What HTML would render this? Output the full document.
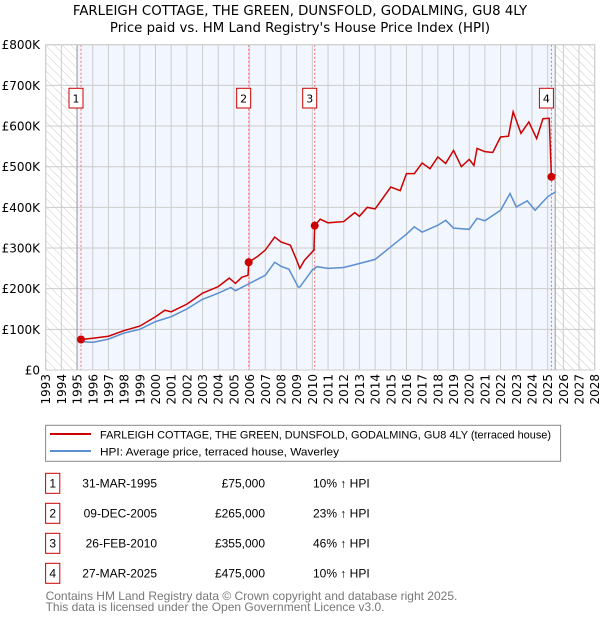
<!DOCTYPE html>
<html><head><meta charset="utf-8"><style>
body{margin:0;background:#fff;font-family:"Liberation Sans","DejaVu Sans",sans-serif;}
</style></head><body>
<svg id="c" width="600" height="620" xmlns="http://www.w3.org/2000/svg" style="font-family:'DejaVu Sans','Liberation Sans',sans-serif">
<defs><pattern id="hatch" width="6" height="6" patternUnits="userSpaceOnUse" patternTransform="rotate(-45)"><line x1="0" y1="0" x2="0" y2="6" stroke="#ccc" stroke-width="1"/></pattern></defs>
<text x="300" y="15" text-anchor="middle" font-size="13.3" fill="#000">FARLEIGH COTTAGE, THE GREEN, DUNSFOLD, GODALMING, GU8 4LY</text>
<text x="300" y="32" text-anchor="middle" font-size="13.3" fill="#000">Price paid vs. HM Land Registry's House Price Index (HPI)</text>
<g id="plot"></g>
<g style="font-family:'Liberation Sans','DejaVu Sans',sans-serif">
<rect x="45.6" y="425.3" width="515" height="36" fill="#fff" stroke="#888"/>
<line x1="50" y1="434" x2="91" y2="434" stroke="#cc0000" stroke-width="2"/>
<text x="100" y="438.5" font-size="11.2" textLength="451" lengthAdjust="spacingAndGlyphs">FARLEIGH COTTAGE, THE GREEN, DUNSFOLD, GODALMING, GU8 4LY (terraced house)</text>
<line x1="50" y1="451" x2="91" y2="451" stroke="#5b8fd0" stroke-width="2"/>
<text x="100" y="455.5" font-size="11.2" textLength="239" lengthAdjust="spacingAndGlyphs">HPI: Average price, terraced house, Waverley</text>
<g id="table" font-size="12"></g>
<text x="45.6" y="600" font-size="12" fill="#777">Contains HM Land Registry data © Crown copyright and database right 2025.</text>
<text x="45.6" y="611" font-size="12" fill="#777">This data is licensed under the Open Government Licence v3.0.</text>
</g>
</svg>
<script>
const hpiYears=[1995.25,1996,1997,1998,1999,2000,2001,2002,2003,2004,2004.8,2005.1,2006,2007,2007.6,2008,2008.5,2009.1,2009.2,2010,2010.3,2011,2012,2013,2014,2015,2016,2016.5,2017,2018,2018.5,2019,2020,2020.5,2021,2022,2022.6,2023,2023.7,2024.2,2025,2025.5];
const hpiValues=[70000,68000,76000,91000,100000,119000,131000,150000,174000,189000,203000,195000,213000,233000,265000,255000,248000,204000,204000,246000,254000,250000,252000,262000,272000,303000,334000,352000,339000,356000,368000,349000,346000,373000,367000,393000,434000,401000,416000,393000,426000,438000];
const propYears=[1995.25,1996,1997,1998,1999,2000,2000.6,2001,2002,2003,2004,2004.7,2005.1,2005.5,2005.9,2005.94,2006.5,2007,2007.6,2008,2008.6,2009,2009.2,2009.5,2010.1,2010.15,2010.5,2011,2012,2012.7,2013,2013.5,2014,2015,2015.6,2016,2016.5,2017,2017.5,2018,2018.5,2019,2019.5,2020,2020.3,2020.5,2021,2021.5,2022,2022.5,2022.8,2023.3,2023.8,2024.3,2024.7,2025.1,2025.24,2025.5];
const propValues=[75000,78000,83000,97000,108000,131000,147000,143000,162000,189000,205000,226000,213000,228000,233000,265000,279000,295000,327000,315000,307000,270000,250000,270000,295000,355000,371000,362000,365000,387000,378000,400000,396000,450000,441000,483000,483000,509000,495000,524000,508000,540000,500000,518000,503000,545000,537000,535000,573000,575000,635000,582000,610000,569000,618000,619000,475000,480000];
const saleYears=[1995.25,2005.94,2010.15,2025.24];
const saleValues=[75000,265000,355000,475000];
const saleDates=["31-MAR-1995","09-DEC-2005","26-FEB-2010","27-MAR-2025"];
const salePrices=["£75,000","£265,000","£355,000","£475,000"];
const saleHpi=["10% ↑ HPI","23% ↑ HPI","46% ↑ HPI","10% ↑ HPI"];
const yTicks=[0,100000,200000,300000,400000,500000,600000,700000,800000];
const yTickLabels=["£0","£100K","£200K","£300K","£400K","£500K","£600K","£700K","£800K"];
const xStart=1993,xEnd=2028,dataStart=1995,dataEnd=2025.48;

const L=45.7,R=594.7,T=44.7,B=370;
const X=v=>L+(v-xStart)/(xEnd-xStart)*(R-L);
const Y=v=>B-v/800000*(B-T);
const NS="http://www.w3.org/2000/svg";
const g=document.getElementById('plot');
function mk(t,a,p){const e=document.createElementNS(NS,t);for(const k in a)e.setAttribute(k,a[k]);(p||g).appendChild(e);return e;}
let e;
e=mk('rect',{x:L,y:T,width:R-L,height:B-T,fill:'#fff'});


e=mk('rect',{x:L,y:T,width:X(dataStart)-L,height:B-T,fill:'url(#hatch)'});


e=mk('rect',{x:X(dataStart),y:T,width:X(dataEnd)-X(dataStart),height:B-T,fill:'#f2f6fe'});


e=mk('rect',{x:X(dataEnd),y:T,width:R-X(dataEnd),height:B-T,fill:'url(#hatch)'});


for(let yr=xStart;yr<=xEnd;yr++){
  e=mk('line',{x1:X(yr),x2:X(yr),y1:T,y2:B,stroke:'#ccc','stroke-width':1});
  
  
  e=mk('text',{x:0,y:0,'font-size':12,'text-anchor':'end',transform:`translate(${X(yr)+4.5},${B+4}) rotate(-90)`});
  e.textContent=yr;
  
  
}
yTicks.forEach((v,i)=>{
  e=mk('line',{x1:L,x2:R,y1:Y(v),y2:Y(v),stroke:'#ccc','stroke-width':1});
  
  
  e=mk('text',{x:40,y:Y(v)+4.5,'font-size':12,'text-anchor':'end'});
  e.textContent=yTickLabels[i];
  
  
});
e=mk('line',{x1:X(dataStart),x2:X(dataStart),y1:T,y2:B,stroke:'#999'});


e=mk('line',{x1:X(dataEnd),x2:X(dataEnd),y1:T,y2:B,stroke:'#999'});


saleYears.forEach((yr,i)=>{
  e=mk('line',{x1:X(yr),x2:X(yr),y1:T,y2:B,stroke:'#f07070','stroke-dasharray':'2,2','stroke-width':1});
  
  
});
e=mk('polyline',{points:hpiYears.map((y,i)=>X(y)+','+Y(hpiValues[i])).join(' '),fill:'none',stroke:'#5b8fd0','stroke-width':1.5});


e=mk('polyline',{points:propYears.map((y,i)=>X(y)+','+Y(propValues[i])).join(' '),fill:'none',stroke:'#cc0000','stroke-width':1.5});


saleYears.forEach((yr,i)=>{
  e=mk('circle',{cx:X(yr),cy:Y(saleValues[i]),r:4,fill:'#cc0000'});
  
  
  const cx=X(yr)-5;
  e=mk('rect',{x:cx-7,y:88.3,width:14,height:19.7,fill:'#fff',stroke:'#cc0000'});
  
  
  e=mk('text',{x:cx,y:102.5,'font-size':11,'text-anchor':'middle'});
  e.textContent=i+1;
  
  
});
e=mk('rect',{x:L,y:T,width:R-L,height:B-T,fill:'none',stroke:'#ccc'});


const tb=document.getElementById('table');
saleDates.forEach((d,i)=>{
  const cy=483.3+i*30;
  e=mk('rect',{x:45.6,y:cy-10,width:14.2,height:20,fill:'#fff',stroke:'#cc0000'},tb);
  
  
  e=mk('text',{x:52.7,y:cy+4,'text-anchor':'middle'},tb);e.textContent=i+1;
  
  
  e=mk('text',{x:157,y:cy+4,'text-anchor':'end'},tb);e.textContent=d;
  
  
  e=mk('text',{x:265,y:cy+4,'text-anchor':'end'},tb);e.textContent=salePrices[i];
  
  
  e=mk('text',{x:313,y:cy+4},tb);e.textContent=saleHpi[i];
  
  
});
</script>
</body></html>
